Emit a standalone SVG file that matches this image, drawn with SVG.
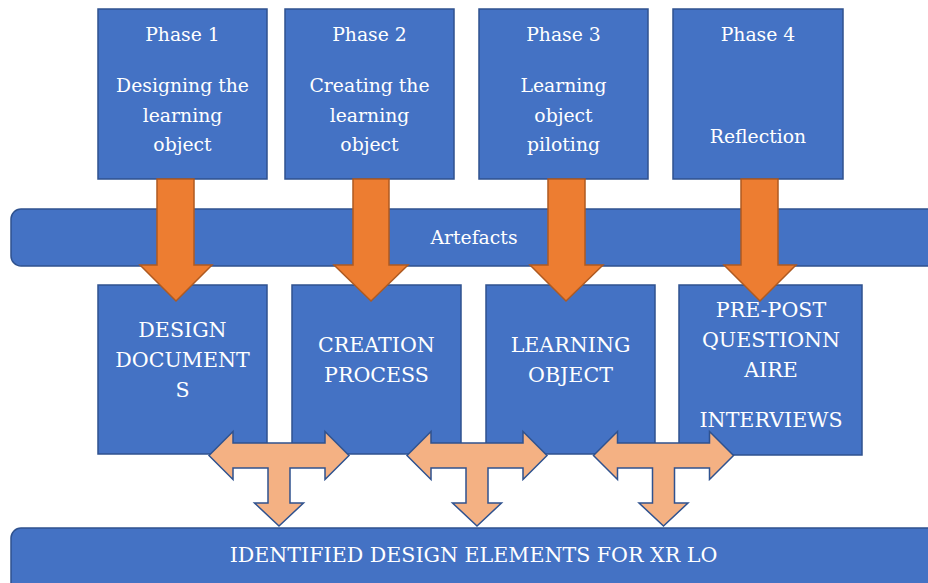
<svg xmlns="http://www.w3.org/2000/svg" width="928" height="583" viewBox="0 0 928 583">
  <style>
    .box { fill: #4472C4; stroke: #2F528F; stroke-width: 1.5; }
    .bar { fill: #4472C4; stroke: #2F528F; stroke-width: 1.5; }
    .down { fill: #ED7D31; stroke: #AE5A21; stroke-width: 1.5; }
    .tee { fill: #F4B183; stroke: #2F528F; stroke-width: 1.5; }
    .lbl { font-family: "DejaVu Serif", serif; font-size: 18.8px; fill: #FFFFFF; text-anchor: middle; }
    .cap { font-size: 20.6px; }
  </style>
  <rect width="928" height="583" fill="#FFFFFF"/>

  <!-- phases -->
  <g id="phase1">
    <rect class="box" x="98" y="9" width="169" height="170"/>
    <text class="lbl" x="182.5" y="41">Phase 1</text>
    <text class="lbl" x="182.5" y="92">Designing the</text>
    <text class="lbl" x="182.5" y="122">learning</text>
    <text class="lbl" x="182.5" y="151">object</text>
  </g>
  <g id="phase2">
    <rect class="box" x="285" y="9" width="169" height="170"/>
    <text class="lbl" x="369.5" y="41">Phase 2</text>
    <text class="lbl" x="369.5" y="92">Creating the</text>
    <text class="lbl" x="369.5" y="122">learning</text>
    <text class="lbl" x="369.5" y="151">object</text>
  </g>
  <g id="phase3">
    <rect class="box" x="479" y="9" width="169" height="170"/>
    <text class="lbl" x="563.5" y="41">Phase 3</text>
    <text class="lbl" x="563.5" y="92">Learning</text>
    <text class="lbl" x="563.5" y="122">object</text>
    <text class="lbl" x="563.5" y="151">piloting</text>
  </g>
  <g id="phase4">
    <rect class="box" x="673" y="9" width="170" height="170"/>
    <text class="lbl" x="758" y="41">Phase 4</text>
    <text class="lbl" x="758" y="143">Reflection</text>
  </g>

  <!-- artefacts band -->
  <g id="artefacts">
    <rect class="bar" x="11" y="209" width="935" height="57" rx="10" ry="10"/>
    <text class="lbl" x="474" y="244">Artefacts</text>
  </g>

  <!-- artefacts -->
  <g id="design-documents">
    <rect class="box" x="98" y="285" width="169" height="169"/>
    <text class="lbl cap" x="182.5" y="337">DESIGN</text>
    <text class="lbl cap" x="182.5" y="367">DOCUMENT</text>
    <text class="lbl cap" x="182.5" y="397">S</text>
  </g>
  <g id="creation-process">
    <rect class="box" x="292" y="285" width="169" height="169"/>
    <text class="lbl cap" x="376.5" y="352">CREATION</text>
    <text class="lbl cap" x="376.5" y="382">PROCESS</text>
  </g>
  <g id="learning-object">
    <rect class="box" x="486" y="285" width="169" height="169"/>
    <text class="lbl cap" x="570.5" y="352">LEARNING</text>
    <text class="lbl cap" x="570.5" y="382">OBJECT</text>
  </g>
  <g id="pre-post">
    <rect class="box" x="679" y="285" width="183" height="170"/>
    <text class="lbl cap" x="771" y="317">PRE-POST</text>
    <text class="lbl cap" x="771" y="347">QUESTIONN</text>
    <text class="lbl cap" x="771" y="377">AIRE</text>
    <text class="lbl cap" x="771" y="427">INTERVIEWS</text>
  </g>

  <!-- phase-to-artefact arrows, drawn over the band and the artefact boxes -->
  <g id="connectors-down">
    <polygon class="down" points="157,179 194,179 194,265 212,265 176,301 140,265 157,265"/>
    <polygon class="down" points="353,179 389,179 389,265 408,265 371,301 334,265 353,265"/>
    <polygon class="down" points="548,179 585,179 585,265 603,265 566,301 530,265 548,265"/>
    <polygon class="down" points="741,179 778,179 778,265 796,265 760,301 724,265 741,265"/>
  </g>

  <!-- three-way arrows joining neighbouring artefacts -->
  <defs>
    <polygon id="tee" points="-70,0 -46,-24 -46,-12.5 46,-12.5 46,-24 70,0 46,24 46,12.5 11,12.5 11,47.5 24.5,47.5 0,70.5 -24.5,47.5 -11,47.5 -11,12.5 -46,12.5 -46,24"/>
  </defs>
  <g id="connectors-tee">
    <use href="#tee" class="tee" x="279" y="455.5"/>
    <use href="#tee" class="tee" x="477" y="455.5"/>
    <use href="#tee" class="tee" x="663.5" y="455.5"/>
  </g>

  <!-- result band -->
  <g id="design-elements">
    <rect class="bar" x="11" y="528" width="935" height="70" rx="10" ry="10"/>
    <text class="lbl cap" x="473.5" y="562">IDENTIFIED DESIGN ELEMENTS FOR XR LO</text>
  </g>
</svg>
